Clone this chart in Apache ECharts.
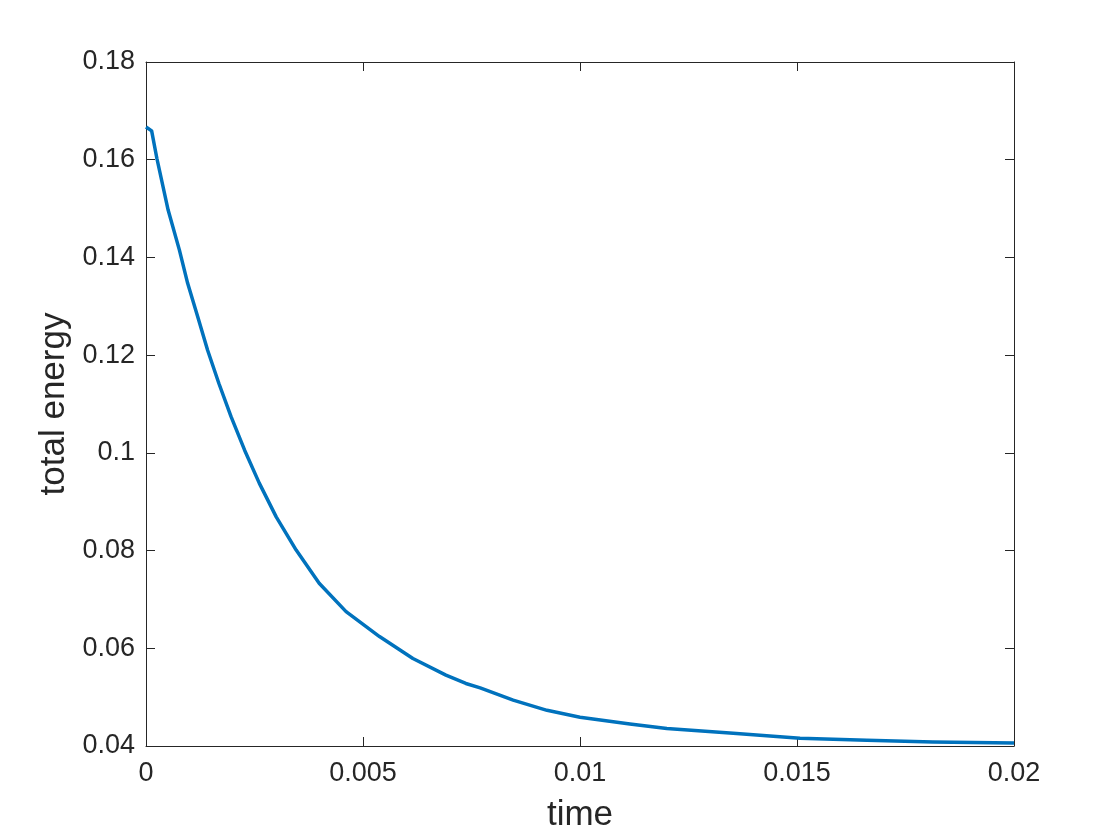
<!DOCTYPE html>
<html>
<head>
<meta charset="utf-8">
<script src="https://cdn.jsdelivr.net/npm/echarts@6/dist/echarts.min.js"></script>
<style>
html, body { margin: 0; padding: 0; background: #fff; }
#chart { width: 1120px; height: 840px; }
</style>
</head>
<body>
<div id="chart"></div>
<script>
// 시간 / 에너지 값
const times = [0, 0.00013, 0.00025, 0.00051, 0.00077, 0.00096, 0.00119, 0.00142, 0.00168, 0.00196,
  0.00227, 0.00261, 0.003, 0.00346, 0.00399, 0.00461, 0.00538, 0.00615, 0.00691, 0.00737,
  0.0077, 0.00846, 0.00924, 0.01, 0.01115, 0.012, 0.01353, 0.01507, 0.01661, 0.01813, 0.02];
const energy = [0.1667, 0.1659, 0.1603, 0.1497, 0.1415, 0.1347, 0.1279, 0.121, 0.1142, 0.1074,
  0.1006, 0.0938, 0.0869, 0.0801, 0.0733, 0.0675, 0.0624, 0.0579, 0.0545, 0.0528,
  0.0519, 0.0494, 0.0473, 0.0459, 0.0445, 0.0436, 0.0426, 0.0416, 0.0412, 0.0408, 0.0406];
const xTicks = [0, 0.005, 0.01, 0.015, 0.02];
const yTicks = [0.04, 0.06, 0.08, 0.1, 0.12, 0.14, 0.16, 0.18];

document.addEventListener('DOMContentLoaded', function() {
  const myChart = echarts.init(document.getElementById('chart'));
  const axisColor = '#262626';
  const font = 'Liberation Sans, Arial, sans-serif';
  const data = times.map((t, i) => [t, energy[i]]);

  const baseX = {
    type: 'value',
    min: xTicks[0],
    max: xTicks[xTicks.length - 1],
    interval: 0.005,
    axisLine: { show: true, onZero: false, lineStyle: { color: axisColor, width: 1 } },
    axisTick: { show: true, inside: true, length: 9, lineStyle: { color: axisColor } },
    splitLine: { show: false }
  };
  const baseY = {
    type: 'value',
    min: yTicks[0],
    max: yTicks[yTicks.length - 1],
    interval: 0.02,
    axisLine: { show: true, onZero: false, lineStyle: { color: axisColor, width: 1 } },
    axisTick: { show: true, inside: true, length: 9, lineStyle: { color: axisColor } },
    splitLine: { show: false }
  };

  const option = {
    animation: false,
    backgroundColor: '#fff',
    grid: { left: 146, top: 62, right: 106, bottom: 94, containLabel: false },
    xAxis: [
      Object.assign({}, baseX, {
        position: 'bottom',
        name: 'time',
        nameLocation: 'middle',
        nameGap: 52,
        nameTextStyle: { color: axisColor, fontSize: 35, fontFamily: font },
        axisLabel: {
          color: axisColor, fontSize: 27, fontFamily: font, margin: 14,
          formatter: v => String(v)
        }
      }),
      Object.assign({}, baseX, { position: 'top', axisLabel: { show: false } })
    ],
    yAxis: [
      Object.assign({}, baseY, {
        position: 'left',
        name: 'total energy',
        nameLocation: 'middle',
        nameGap: 62,
        nameTextStyle: { color: axisColor, fontSize: 35, fontFamily: font },
        axisLabel: {
          color: axisColor, fontSize: 27, fontFamily: font, margin: 11,
          formatter: v => String(Math.round(v * 100) / 100)
        }
      }),
      Object.assign({}, baseY, { position: 'right', axisLabel: { show: false } })
    ],
    series: [
      {
        type: 'line',
        data: data,
        xAxisIndex: 0,
        yAxisIndex: 0,
        smooth: false,
        symbol: 'none',
        lineStyle: { color: '#0072BD', width: 3.5, join: 'round' }
      }
    ]
  };
  myChart.setOption(option);
});
</script>
</body>
</html>
